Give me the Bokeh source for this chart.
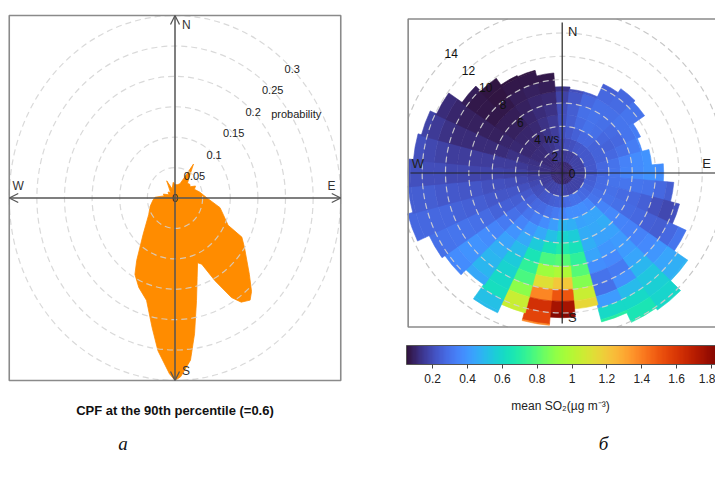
import math
from bokeh.plotting import figure
from bokeh.layouts import row
from bokeh.models import (ColumnDataSource, LinearColorMapper, ColorBar, FixedTicker,
                          CustomJSTickFormatter, Arrow, OpenHead, Label, Range1d)
from bokeh.palettes import Turbo256
from bokeh.transform import transform
from bokeh.core.properties import value
from bokeh.embed import file_html
from bokeh.resources import INLINE

FONT = "Liberation Sans"
SERIF = "Liberation Serif"

# ======================= DATA =======================
# panel (a): CPF rose, wind direction (deg clockwise from N) -> probability
cpf_direction = [0, 10, 21, 26, 31, 36, 43, 50, 56, 62, 68, 78, 90, 101, 107, 115, 118, 123,
                 133, 138, 141, 145, 148, 152, 156, 159, 163, 167, 171, 174, 178, 180, 182,
                 187, 191, 197, 204, 210, 214, 224, 240, 253, 265, 272, 280, 287, 296, 308,
                 318, 332, 341, 353]
cpf_probability = [0.022, 0.022, 0.025, 0.035, 0.065, 0.045, 0.033, 0.035, 0.033, 0.042,
                   0.038, 0.046, 0.058, 0.083, 0.091, 0.106, 0.137, 0.150, 0.184, 0.207,
                   0.216, 0.209, 0.193, 0.154, 0.119, 0.114, 0.137, 0.173, 0.226, 0.268,
                   0.294, 0.300, 0.289, 0.253, 0.217, 0.176, 0.161, 0.145, 0.124, 0.083,
                   0.055, 0.047, 0.040, 0.036, 0.020, 0.022, 0.012, 0.016, 0.012, 0.032,
                   0.016, 0.026]
cpf_ring_values = [0, 0.05, 0.1, 0.15, 0.2, 0.25, 0.3]
cpf_ring_labels = ["0", "0.05", "0.1", "0.15", "0.2", "0.25", "0.3"]
cpf_axis_title = "probability"
cpf_caption = "CPF at the 90th percentile (=0.6)"
compass = ["N", "E", "S", "W"]
compass_deg = [0, 90, 180, 270]

# panel (b): mean SO2 by wind direction (10 deg sectors) and wind speed (1-unit rings)
pp_directions = [0, 10, 20, 30, 40, 50, 60, 70, 80, 90, 100, 110, 120, 130, 140, 150, 160, 170,
                 180, 190, 200, 210, 220, 230, 240, 250, 260, 270, 280, 290, 300, 310, 320, 330,
                 340, 350]
pp_extent = [7.4, 7.2, 7.2, 8.4, 8.8, 8.6, 7.4, 7.1, 7.7, 8.7, 9.6, 10.4, 11.7, 13.1, 14.3,
             14.1, 13.2, 11.7, 12.4, 13.1, 12.4, 13.2, 11.7, 12.3, 12.6, 13.7, 13.25, 13.2,
             12.8, 12.5, 11.9, 10.5, 9.9, 9.2, 9.1, 8.6]
so2_000 = [0.11, 0.14, 0.18, 0.20, 0.21, 0.20, 0.17, 0.14]
so2_010 = [0.11, 0.15, 0.20, 0.23, 0.24, 0.24, 0.22, 0.20]
so2_020 = [0.11, 0.16, 0.21, 0.25, 0.28, 0.29, 0.27, 0.24]
so2_030 = [0.11, 0.16, 0.22, 0.27, 0.30, 0.30, 0.29, 0.27, 0.25]
so2_040 = [0.11, 0.17, 0.23, 0.27, 0.29, 0.29, 0.29, 0.28, 0.27]
so2_050 = [0.11, 0.17, 0.23, 0.26, 0.27, 0.28, 0.31, 0.31, 0.30]
so2_060 = [0.11, 0.17, 0.23, 0.26, 0.26, 0.27, 0.31, 0.33]
so2_070 = [0.11, 0.17, 0.23, 0.26, 0.27, 0.29, 0.33, 0.36]
so2_080 = [0.11, 0.17, 0.23, 0.27, 0.30, 0.34, 0.37, 0.39]
so2_090 = [0.11, 0.17, 0.23, 0.27, 0.31, 0.35, 0.37, 0.39, 0.38]
so2_100 = [0.11, 0.17, 0.24, 0.28, 0.30, 0.31, 0.31, 0.30, 0.27, 0.24]
so2_110 = [0.11, 0.17, 0.25, 0.28, 0.29, 0.28, 0.27, 0.25, 0.21, 0.19, 0.21]
so2_120 = [0.11, 0.17, 0.26, 0.29, 0.30, 0.29, 0.28, 0.27, 0.25, 0.24, 0.27, 0.31]
so2_130 = [0.11, 0.17, 0.27, 0.31, 0.35, 0.36, 0.35, 0.34, 0.34, 0.36, 0.40, 0.44, 0.47, 0.48]
so2_140 = [0.11, 0.17, 0.28, 0.36, 0.44, 0.46, 0.43, 0.41, 0.41, 0.44, 0.49, 0.54, 0.57, 0.59, 0.60]
so2_150 = [0.10, 0.17, 0.29, 0.38, 0.44, 0.45, 0.43, 0.40, 0.36, 0.32, 0.38, 0.50, 0.60, 0.66, 0.68]
so2_160 = [0.10, 0.17, 0.29, 0.38, 0.43, 0.46, 0.47, 0.44, 0.38, 0.30, 0.29, 0.41, 0.60, 0.70]
so2_170 = [0.11, 0.18, 0.28, 0.38, 0.47, 0.56, 0.64, 0.72, 0.80, 0.88, 1.05, 1.15]
so2_180 = [0.12, 0.19, 0.26, 0.35, 0.48, 0.58, 0.68, 0.80, 0.98, 1.20, 1.50, 1.75, 1.82]
so2_190 = [0.12, 0.19, 0.25, 0.32, 0.42, 0.52, 0.64, 0.78, 0.94, 1.12, 1.38, 1.62, 1.55, 1.38]
so2_200 = [0.12, 0.18, 0.24, 0.30, 0.37, 0.45, 0.55, 0.65, 0.72, 0.78, 0.90, 1.05, 1.05]
so2_210 = [0.12, 0.18, 0.23, 0.28, 0.33, 0.40, 0.45, 0.50, 0.55, 0.58, 0.60, 0.62, 0.52, 0.50]
so2_220 = [0.12, 0.17, 0.22, 0.27, 0.31, 0.35, 0.39, 0.43, 0.47, 0.49, 0.49, 0.45]
so2_230 = [0.12, 0.17, 0.21, 0.25, 0.27, 0.29, 0.32, 0.35, 0.37, 0.39, 0.39, 0.37, 0.35]
so2_240 = [0.12, 0.16, 0.20, 0.23, 0.24, 0.25, 0.26, 0.28, 0.29, 0.30, 0.31, 0.30, 0.29]
so2_250 = [0.12, 0.16, 0.19, 0.21, 0.22, 0.22, 0.23, 0.24, 0.25, 0.26, 0.27, 0.27, 0.27, 0.27]
so2_260 = [0.12, 0.15, 0.17, 0.19, 0.20, 0.21, 0.21, 0.22, 0.22, 0.23, 0.23, 0.24, 0.24, 0.24]
so2_270 = [0.12, 0.14, 0.16, 0.17, 0.17, 0.18, 0.18, 0.18, 0.19, 0.19, 0.20, 0.20, 0.21, 0.21]
so2_280 = [0.12, 0.13, 0.14, 0.15, 0.16, 0.16, 0.16, 0.16, 0.16, 0.16, 0.17, 0.19, 0.21]
so2_290 = [0.12, 0.13, 0.13, 0.13, 0.13, 0.12, 0.12, 0.12, 0.12, 0.12, 0.13, 0.15, 0.17]
so2_300 = [0.12, 0.12, 0.12, 0.11, 0.11, 0.10, 0.09, 0.09, 0.09, 0.09, 0.10, 0.12]
so2_310 = [0.12, 0.12, 0.12, 0.11, 0.10, 0.09, 0.08, 0.07, 0.07, 0.07, 0.08]
so2_320 = [0.12, 0.12, 0.12, 0.11, 0.10, 0.09, 0.08, 0.07, 0.06, 0.06]
so2_330 = [0.12, 0.13, 0.13, 0.12, 0.11, 0.10, 0.09, 0.08, 0.07, 0.06]
so2_340 = [0.11, 0.13, 0.14, 0.14, 0.13, 0.12, 0.10, 0.09, 0.07, 0.06]
so2_350 = [0.11, 0.14, 0.16, 0.16, 0.15, 0.13, 0.11, 0.08, 0.07]
pp_ring_values = [2, 4, 6, 8, 10, 12, 14]
pp_ring_labels = ["2", "4", "6", "8", "10", "12", "14"]
pp_axis_title = "ws"
so2_ticks = [0.2, 0.4, 0.6, 0.8, 1.0, 1.2, 1.4, 1.6, 1.8]
so2_low, so2_high = 0.05, 1.85
so2_title = "mean SO\u2082(\u00b5g m\u207b\u00b3)"
panel_letters = ["\u0430", "\u0431"]

so2_by_direction = [so2_000, so2_010, so2_020, so2_030, so2_040, so2_050, so2_060, so2_070,
                    so2_080, so2_090, so2_100, so2_110, so2_120, so2_130, so2_140, so2_150,
                    so2_160, so2_170, so2_180, so2_190, so2_200, so2_210, so2_220, so2_230,
                    so2_240, so2_250, so2_260, so2_270, so2_280, so2_290, so2_300, so2_310,
                    so2_320, so2_330, so2_340, so2_350]

H = 478

# ======================= PANEL (a) =======================
WA = 398
CXA, CYA = 174.5, 197.5          # centre of the rose (px from the figure's top-left)
SXA, SYA = 552.5, 608.3          # px per probability unit
BOXA = 0.3
fa = figure(width=WA, height=H, output_backend="svg", toolbar_location=None,
            x_range=Range1d(-CXA / SXA, (WA - CXA) / SXA),
            y_range=Range1d(-(H - CYA) / SYA, CYA / SYA),
            x_axis_location=None, y_axis_location=None, min_border=0,
            outline_line_color=None, background_fill_color="white")
fa.grid.visible = False

px = [r * math.sin(math.radians(d)) for d, r in zip(cpf_direction, cpf_probability)]
py = [r * math.cos(math.radians(d)) for d, r in zip(cpf_direction, cpf_probability)]
fa.patch(px, py, fill_color="#FF8C00", line_color="#FF8C00", line_width=0.8)

rings = [v for v in cpf_ring_values if v > 0]
fa.ellipse(x=0, y=0, width=[2 * v for v in rings], height=[2 * v for v in rings],
           fill_color=None, line_color="#d2d2d2", line_alpha=0.85, line_width=1.2,
           line_dash="6 4")
fa.rect(x=0, y=0, width=2 * BOXA, height=2 * BOXA, fill_color=None,
        line_color="#8a8a8a", line_width=1.6)

for d in compass_deg:
    xe = BOXA * math.sin(math.radians(d))
    ye = BOXA * math.cos(math.radians(d))
    fa.add_layout(Arrow(end=OpenHead(size=9, line_color="#555555", line_width=1.3),
                        x_start=0, y_start=0, x_end=xe, y_end=ye,
                        line_color="#555555", line_width=1.5))

lab_x, lab_y = [], []
for c, d in zip(compass, compass_deg):
    if d in (0, 180):
        lab_x.append(7 / SXA)
        lab_y.append((0.285 if d == 0 else -0.284))
    else:
        lab_x.append(0.276 if d == 90 else -0.294)
        lab_y.append(12.5 / SYA)
fa.text(x=lab_x, y=lab_y, text=compass, text_font=value(FONT), text_font_size=value("12px"),
        text_color="#333333", text_align="left", text_baseline="middle")

s45 = math.sin(math.radians(45))
fa.text(x=[v * s45 for v in cpf_ring_values], y=[v * s45 for v in cpf_ring_values],
        text=cpf_ring_labels, text_font=value(FONT), text_font_size=value("11px"),
        text_color="#222222", text_align="center", text_baseline="middle")
fa.add_layout(Label(x=0.2 * s45, y=0.2 * s45 - 0.004, x_offset=18, text=cpf_axis_title,
                    text_font=FONT, text_font_size="11px", text_color="#222222",
                    text_align="left", text_baseline="middle"))
fa.add_layout(Label(x=0, y=-212.5 / SYA, text=cpf_caption, text_font=FONT,
                    text_font_size="13px", text_font_style="bold", text_color="#111111",
                    text_align="center", text_baseline="middle"))
fa.add_layout(Label(x=-52 / SXA, y=-245.5 / SYA, text=panel_letters[0], text_font=SERIF,
                    text_font_size="19px", text_font_style="italic", text_color="#111111",
                    text_align="center", text_baseline="middle"))

# ======================= PANEL (b) =======================
WB = 317
CXB, CYB = 163.7, 172.5
SB = 11.67                       # px per wind-speed unit
BOXB = 13.2
fb = figure(width=WB, height=H, output_backend="svg", toolbar_location=None,
            x_range=Range1d(-CXB / SB, (WB - CXB) / SB),
            y_range=Range1d(-(H - CYB) / SB, CYB / SB),
            x_axis_location=None, y_axis_location=None, min_border=0,
            outline_line_color=None, background_fill_color="white")
fb.grid.visible = False

mapper = LinearColorMapper(palette=Turbo256, low=so2_low, high=so2_high)
r0s, r1s, a0s, a1s, vs = [], [], [], [], []
for d, ext, vals in zip(pp_directions, pp_extent, so2_by_direction):
    for i, v in enumerate(vals):
        inner, outer = float(i), min(i + 1.0, ext)
        if outer <= inner:
            continue
        r0s.append(inner)
        r1s.append(outer)
        a0s.append(math.radians(90 - d - 5.2))
        a1s.append(math.radians(90 - d + 5.2))
        vs.append(v)
src = ColumnDataSource(dict(r0=r0s, r1=r1s, a0=a0s, a1=a1s, v=vs))
fb.annular_wedge(x=0, y=0, inner_radius="r0", outer_radius="r1", start_angle="a0",
                 end_angle="a1", fill_color=transform("v", mapper),
                 line_color=transform("v", mapper), line_width=0.6, source=src)

for R in pp_ring_values:
    if R <= BOXB:
        fb.arc(x=0, y=0, radius=R, start_angle=0, end_angle=2 * math.pi,
               line_color="#d0d0d0", line_alpha=0.9, line_width=1.2, line_dash="6 4")
    else:
        lo, hi = math.acos(BOXB / R), math.asin(BOXB / R)
        for q in range(4):
            fb.arc(x=0, y=0, radius=R, start_angle=q * math.pi / 2 + lo,
                   end_angle=q * math.pi / 2 + hi, line_color="#c8c8c8",
                   line_width=1.2, line_dash="6 4")

fb.rect(x=0, y=0, width=2 * BOXB, height=2 * BOXB, fill_color=None,
        line_color="#8a8a8a", line_width=1.6)
fb.segment(x0=[-13.0, 0], y0=[0, -12.9], x1=[13.2, 0], y1=[0, 12.9],
           line_color="#222222", line_width=1.2)

lbx, lby = [], []
for c, d in zip(compass, compass_deg):
    if d in (0, 180):
        lbx.append(0.5)
        lby.append(12.1 if d == 0 else -12.36)
    else:
        lbx.append(12.0 if d == 90 else -12.9)
        lby.append(0.79)
fb.text(x=lbx, y=lby, text=compass, text_font=value(FONT), text_font_size=value("13px"),
        text_color="#222222", text_align="left", text_baseline="middle")

lab_vals = [0] + pp_ring_values
lab_txt = ["0"] + pp_ring_labels
fb.text(x=[0.84 - 0.739 * v for v in lab_vals], y=[-0.08 + 0.739 * v for v in lab_vals],
        text=lab_txt, text_font=value(FONT), text_font_size=value("12px"),
        text_color="#111111", text_align="center", text_baseline="middle")
fb.add_layout(Label(x=0.84 - 0.739 * 4, y=-0.08 + 0.739 * 4, x_offset=7, text=pp_axis_title,
                    text_font=FONT, text_font_size="12px", text_color="#111111",
                    text_align="left", text_baseline="middle"))

# colour bar
cb_px_per_unit = 174.0
cb_width = WB - 8
n_cols = int(round(256 * (cb_width / cb_px_per_unit) / (so2_high - so2_low)))
cb_mapper = LinearColorMapper(palette=Turbo256[:n_cols], low=so2_low,
                              high=so2_low + n_cols / 256 * (so2_high - so2_low))
cb = ColorBar(color_mapper=cb_mapper, orientation="horizontal", location=(8, 93),
              width=int(round(n_cols / 256 * (so2_high - so2_low) * cb_px_per_unit)),
              height=19, padding=0, margin=0,
              ticker=FixedTicker(ticks=so2_ticks),
              formatter=CustomJSTickFormatter(code="return (Math.round(tick*10)/10).toString()"),
              major_tick_out=4, major_tick_in=0, major_tick_line_color="#444444",
              bar_line_color="#555555", major_label_text_font=FONT,
              major_label_text_font_size="12px", major_label_text_color="#222222",
              label_standoff=5, background_fill_color=None, border_line_color=None)
fb.add_layout(cb, "center")

fb.add_layout(Label(x=-1.7 / SB, y=-(405 - 172.5) / SB, text=so2_title, text_font=FONT,
                    text_font_size="12px", text_color="#222222", text_align="center",
                    text_baseline="middle"))
fb.add_layout(Label(x=(603 - 561.7) / SB, y=-(443 - 172.5) / SB, text=panel_letters[1],
                    text_font=SERIF, text_font_size="19px", text_font_style="italic",
                    text_color="#111111", text_align="center", text_baseline="middle"))

layout = row(fa, fb, spacing=0)
open("out.html", "w").write(file_html(layout, INLINE))
